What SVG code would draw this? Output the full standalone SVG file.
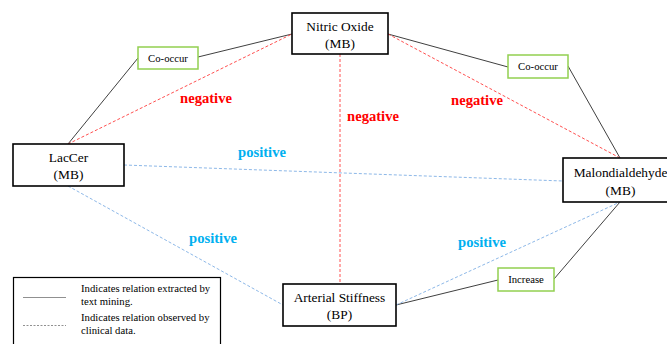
<svg xmlns="http://www.w3.org/2000/svg" width="667" height="344" viewBox="0 0 667 344">
<style>
.node{fill:#fff;stroke:#000;stroke-width:1.6}
.tag{fill:#fff;stroke:#92d050;stroke-width:1.5}
.solid{stroke:#404040;stroke-width:1;fill:none}
.red{stroke:#ff5050;stroke-width:1;stroke-dasharray:3,2;fill:none}
.blue{stroke:#8db8e8;stroke-width:1;stroke-dasharray:3,2;fill:none}
</style>
<rect width="667" height="344" fill="#fff"/>
<g id="connectors">
<polyline class="solid" points="68,144 138,58"/>
<polyline class="solid" points="198,57 292,34"/>
<polyline class="solid" points="388,34 508,67"/>
<polyline class="solid" points="568,66 620,158"/>
<polyline class="solid" points="396,305 498,280"/>
<polyline class="solid" points="554,279 620,202"/>
<line class="red" x1="68" y1="144" x2="292" y2="34"/>
<line class="red" x1="388" y1="34" x2="620" y2="158"/>
<line class="red" x1="340" y1="54" x2="340" y2="284"/>
<line class="blue" x1="124" y1="165" x2="563" y2="181"/>
<line class="blue" x1="68" y1="186" x2="283" y2="305"/>
<line class="blue" x1="396" y1="305" x2="620" y2="202"/>
</g>
<g id="labels" font-family="Liberation Serif" font-weight="bold" font-size="14.6" text-anchor="middle">
<text fill="#ff0000" x="206" y="103" font-family="Liberation Serif">negative</text>
<text fill="#ff0000" x="373" y="121" font-family="Liberation Serif">negative</text>
<text fill="#ff0000" x="477" y="105" font-family="Liberation Serif">negative</text>
<text fill="#00b0f0" x="262" y="157" font-family="Liberation Serif">positive</text>
<text fill="#00b0f0" x="213" y="243" font-family="Liberation Serif">positive</text>
<text fill="#00b0f0" x="482" y="247" font-family="Liberation Serif">positive</text>
</g>
<g id="cooccur1" font-family="Liberation Serif" font-size="10.7" text-anchor="middle"><rect class="tag" x="138" y="47" width="60" height="22"/><text x="168" y="61.5" font-family="Liberation Serif">Co-occur</text></g>
<g id="cooccur2" font-family="Liberation Serif" font-size="10.7" text-anchor="middle"><rect class="tag" x="508" y="55" width="60" height="23"/><text x="538" y="70" font-family="Liberation Serif">Co-occur</text></g>
<g id="increase" font-family="Liberation Serif" font-size="10.7" text-anchor="middle"><rect class="tag" x="498" y="268" width="56" height="23"/><text x="526" y="283" font-family="Liberation Serif">Increase</text></g>
<g id="nitric" font-family="Liberation Serif" font-size="13.4" text-anchor="middle"><rect class="node" x="292" y="13" width="96" height="41"/><text x="340" y="31" font-family="Liberation Serif">Nitric Oxide</text><text x="340" y="48" font-family="Liberation Serif">(MB)</text></g>
<g id="laccer" font-family="Liberation Serif" font-size="13.4" text-anchor="middle"><rect class="node" x="13" y="144" width="111" height="42"/><text x="68.5" y="162" font-family="Liberation Serif">LacCer</text><text x="68.5" y="179" font-family="Liberation Serif">(MB)</text></g>
<g id="malon" font-family="Liberation Serif" font-size="13.4" text-anchor="middle"><rect class="node" x="563" y="158" width="114" height="44"/><text x="620.5" y="177" font-family="Liberation Serif">Malondialdehyde</text><text x="620.5" y="195" font-family="Liberation Serif">(MB)</text></g>
<g id="arterial" font-family="Liberation Serif" font-size="13.4" text-anchor="middle"><rect class="node" x="283" y="284" width="113" height="42"/><text x="339.5" y="302" font-family="Liberation Serif">Arterial Stiffness</text><text x="339.5" y="319" font-family="Liberation Serif">(BP)</text></g>
<g id="legend" font-family="Liberation Serif" font-size="10.7">
<rect x="13.5" y="277.5" width="207" height="80" fill="#fff" stroke="#000" stroke-width="1.2"/>
<line x1="23" y1="297.5" x2="66" y2="297.5" stroke="#909090" stroke-width="1"/>
<line x1="23" y1="325.5" x2="66" y2="325.5" stroke="#909090" stroke-width="1" stroke-dasharray="2,1.5"/>
<text x="81" y="292" font-family="Liberation Serif">Indicates relation extracted by</text>
<text x="81" y="305" font-family="Liberation Serif">text mining.</text>
<text x="81" y="321" font-family="Liberation Serif">Indicates relation observed by</text>
<text x="81" y="334" font-family="Liberation Serif">clinical data.</text>
</g>
</svg>
